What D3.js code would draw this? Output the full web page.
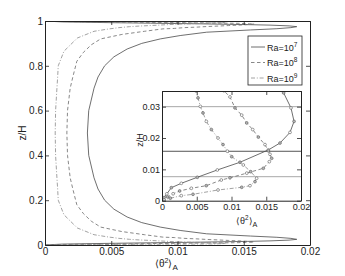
<!DOCTYPE html>
<html><head><meta charset="utf-8">
<script src="https://cdn.jsdelivr.net/npm/d3@7"></script>
<style>body{margin:0;background:#fff} text{font-family:"Liberation Sans",Arial,sans-serif}</style>
</head><body><svg id="c" width="345" height="276"></svg>
<script>
// ---- data (half profiles from wall z=0 to mid z=0.5; mirrored about z=0.5) ----
const seriesExp = ["7", "8", "9"];
const z7 = [0, 0.0004, 0.001, 0.0022, 0.00415, 0.00555, 0.00747, 0.0098, 0.01226, 0.0162, 0.0184, 0.0218, 0.0253, 0.0296, 0.0344, 0.04, 0.05, 0.065, 0.08, 0.1, 0.125, 0.16, 0.2, 0.25, 0.3, 0.4, 0.5];
const t7 = [0, 0.0001, 0.0003, 0.0007, 0.00134, 0.00278, 0.00508, 0.00796, 0.01122, 0.0153, 0.01698, 0.01842, 0.0190, 0.01856, 0.0175, 0.0155, 0.0122, 0.0102, 0.0087, 0.0073, 0.0062, 0.0052, 0.0045, 0.0040, 0.0037, 0.0033, 0.0032];
const z8 = [0, 0.0003, 0.0012, 0.0022, 0.0031, 0.00396, 0.00479, 0.0066, 0.0073, 0.0088, 0.01034, 0.01245, 0.01353, 0.0148, 0.0159, 0.0179, 0.0203, 0.0227, 0.0248, 0.0273, 0.0296, 0.0331, 0.0351, 0.046, 0.06, 0.08, 0.106, 0.14, 0.18, 0.25, 0.3, 0.4, 0.5];
const t8 = [0, 0.0002, 0.0008, 0.0016, 0.00254, 0.00422, 0.00637, 0.00853, 0.00978, 0.0122, 0.01458, 0.01544, 0.01578, 0.01554, 0.0153, 0.01482, 0.01386, 0.01305, 0.01219, 0.01147, 0.0105, 0.00978, 0.0089, 0.0075, 0.0058, 0.0042, 0.0035, 0.0029, 0.0024, 0.0021, 0.0019, 0.0017, 0.00165];
const z9 = [0, 0.0002, 0.0008, 0.0016, 0.00204, 0.00342, 0.00428, 0.00479, 0.00607, 0.00715, 0.00926, 0.0114, 0.01404, 0.0158, 0.0179, 0.02, 0.0227, 0.0253, 0.028, 0.0301, 0.0328, 0.0351, 0.046, 0.076, 0.135, 0.2, 0.255, 0.3, 0.4, 0.5];
const t9 = [0, 0.0003, 0.0012, 0.00278, 0.00446, 0.00806, 0.01147, 0.01266, 0.01338, 0.01362, 0.01276, 0.0117, 0.01003, 0.0094, 0.00878, 0.00806, 0.0071, 0.00638, 0.0059, 0.00551, 0.00518, 0.00485, 0.0037, 0.00244, 0.00143, 0.0010, 0.00095, 0.0009, 0.0008, 0.00077];

const xTicks = [0, 0.005, 0.01, 0.015, 0.02];
const xTickLabels = ["0", "0.005", "0.01", "0.015", "0.02"];
const yTicks = [0, 0.2, 0.4, 0.6, 0.8, 1];
const yTickLabels = ["0", "0.2", "0.4", "0.6", "0.8", "1"];
const insetYTicks = [0, 0.01, 0.02, 0.03];
const insetYTickLabels = ["0", "0.01", "0.02", "0.03"];
const insetRefLines = [0.0300, 0.01577, 0.00766];

// ---- styles ----
const styles = [
  {stroke: "#4a4a4a", dash: null},
  {stroke: "#6a6a6a", dash: "3.5,2.5"},
  {stroke: "#8a8a8a", dash: "4,1.8,1,1.8"}
];
const refStyles = ["#a8a8a8", "#555", "#a8a8a8"];

const half = [[z7, t7], [z8, t8], [z9, t9]];
const full = half.map(([z, t]) => {
  const lo = z.map((d, i) => ({z: d, t: t[i]}));
  const hi = lo.filter(d => d.z < 0.5).map(d => ({z: 1 - d.z, t: d.t})).reverse();
  return lo.concat(hi);
});

const svg = d3.select("#c");

function axes(g, x, y, xt, xl, yt, yl, fs) {
  const y0 = y.range()[0], y1 = y.range()[1], x0 = x.range()[0], x1 = x.range()[1];
  const cfg = (a) => a.tickSizeInner(-4).tickSizeOuter(0);
  g.append("g").attr("transform", `translate(0,${y0})`)
    .call(cfg(d3.axisBottom(x).tickValues(xt).tickFormat((d, i) => xl[i])).tickPadding(3));
  g.append("g").attr("transform", `translate(0,${y1})`)
    .call(cfg(d3.axisTop(x).tickValues(xt).tickFormat("")));
  g.append("g").attr("transform", `translate(${x0},0)`)
    .call(cfg(d3.axisLeft(y).tickValues(yt).tickFormat((d, i) => yl[i])).tickPadding(2));
  g.append("g").attr("transform", `translate(${x1},0)`)
    .call(cfg(d3.axisRight(y).tickValues(yt).tickFormat("")));
  g.selectAll(".domain").attr("stroke", "#222").attr("stroke-width", 1);
  g.selectAll(".tick line").attr("stroke", "#222").attr("stroke-width", 0.8);
  g.selectAll("text").attr("font-size", fs).attr("font-family", '"Liberation Sans",Arial,sans-serif').attr("fill", "#222");
}

function thetaLabel(g, x, y, fs) {
  const t = g.append("text").attr("x", x).attr("y", y).attr("font-size", fs).attr("fill", "#222");
  t.append("tspan").text("\u27E8\u03B8");
  t.append("tspan").attr("dy", -4).attr("font-size", fs * 0.7).text("2");
  t.append("tspan").attr("dy", 4).text("\u27E9");
  t.append("tspan").attr("dy", 3).attr("font-size", fs * 0.8).text("A");
}

// ---- main plot ----
const X = d3.scaleLinear().domain([0, 0.02]).range([45, 310]);
const Y = d3.scaleLinear().domain([0, 1]).range([245, 21]);
svg.append("clipPath").attr("id", "cm").append("rect")
  .attr("x", 45).attr("y", 21).attr("width", 265).attr("height", 224);
const main = svg.append("g");
const lineM = d3.line().x(d => X(d.t)).y(d => Y(d.z));
main.append("g").attr("clip-path", "url(#cm)").selectAll("path").data(full).join("path")
  .attr("d", lineM).attr("fill", "none")
  .attr("stroke", (d, i) => styles[i].stroke).attr("stroke-width", 0.8)
  .attr("stroke-dasharray", (d, i) => styles[i].dash);
axes(main, X, Y, xTicks, xTickLabels, yTicks, yTickLabels, 10);
thetaLabel(svg, 155, 267, 10);
svg.append("text").attr("transform", "translate(26,133) rotate(-90)")
  .attr("text-anchor", "middle").attr("font-size", 10).attr("fill", "#222").text("z/H");

// ---- legend ----
const leg = svg.append("g");
leg.append("rect").attr("x", 248).attr("y", 36).attr("width", 54).attr("height", 49)
  .attr("fill", "#fff").attr("stroke", "#222").attr("stroke-width", 0.8);
seriesExp.forEach((e, i) => {
  const yy = 47 + i * 15.5;
  leg.append("line").attr("x1", 251).attr("x2", 265).attr("y1", yy).attr("y2", yy)
    .attr("stroke", styles[i].stroke).attr("stroke-width", 0.8).attr("stroke-dasharray", styles[i].dash);
  const t = leg.append("text").attr("x", 267).attr("y", yy + 3.5).attr("font-size", 9).attr("fill", "#222");
  t.append("tspan").text("Ra=10");
  t.append("tspan").attr("dy", -4).attr("font-size", 6.5).text(e);
});

// ---- inset ----
const XI = d3.scaleLinear().domain([0, 0.02]).range([162, 301]);
const YI = d3.scaleLinear().domain([0, 0.035]).range([200.7, 91]);
svg.append("clipPath").attr("id", "ci").append("rect")
  .attr("x", 162).attr("y", 91).attr("width", 139).attr("height", 109.7);
const ins = svg.append("g");
ins.append("rect").attr("x", 162).attr("y", 91).attr("width", 139).attr("height", 109.7).attr("fill", "#fff");
const ic = ins.append("g").attr("clip-path", "url(#ci)");
ic.selectAll("line.ref").data(insetRefLines).join("line").attr("class", "ref")
  .attr("x1", 162).attr("x2", 301).attr("y1", d => YI(d)).attr("y2", d => YI(d))
  .attr("stroke", (d, i) => refStyles[i]).attr("stroke-width", 1);
const lineI = d3.line().x(d => XI(d.t)).y(d => YI(d.z));
full.forEach((s, i) => {
  ic.append("path").attr("d", lineI(s)).attr("fill", "none")
    .attr("stroke", styles[i].stroke).attr("stroke-width", 0.8).attr("stroke-dasharray", styles[i].dash);
  ic.selectAll("circle.s" + i).data(s.filter(d => d.z <= 0.036)).join("circle").attr("class", "s" + i)
    .attr("cx", d => XI(d.t)).attr("cy", d => YI(d.z)).attr("r", 1.4)
    .attr("fill", (d, j) => j % 2 ? "#fff" : "#b5b5b5").attr("stroke", "#5a5a5a").attr("stroke-width", 0.6);
});
axes(ins, XI, YI, xTicks, xTickLabels, insetYTicks, insetYTickLabels, 9);
thetaLabel(svg, 236, 224, 9);
svg.append("text").attr("transform", "translate(143,140) rotate(-90)")
  .attr("text-anchor", "middle").attr("font-size", 9).attr("fill", "#222").text("z/H");
</script></body></html>
